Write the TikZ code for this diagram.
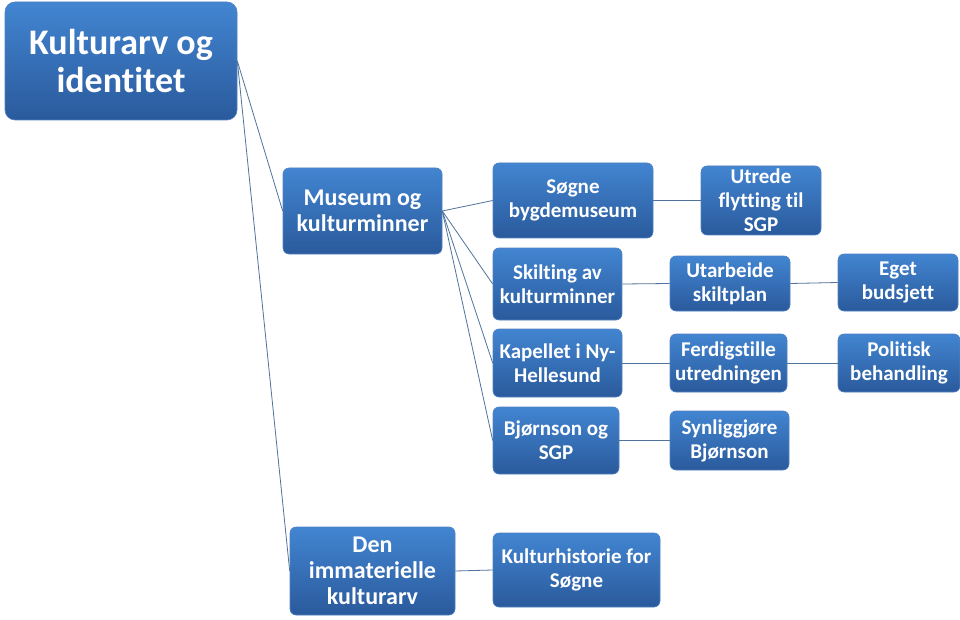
\documentclass[tikz,border=0pt]{standalone}
\usepackage{fontspec}
\setmainfont[Ligatures=NoCommon]{Carlito}
\definecolor{boxtop}{RGB}{66,133,209}
\definecolor{boxbot}{RGB}{42,90,156}
\definecolor{boxedge}{RGB}{80,130,195}
\definecolor{linkc}{RGB}{80,115,155}
\begin{document}
\begin{tikzpicture}[x=1pt,y=-1pt,
  box/.style={draw=boxedge, line width=0.6pt, rounded corners=6pt, top color=boxtop, bottom color=boxbot,
    text=white, align=center, inner sep=0pt, font=\bfseries\fontsize{21}{24}\selectfont},
  lvlone/.style={box, font=\bfseries\fontsize{24}{26}\selectfont},
  rootbox/.style={box, rounded corners=10pt, font=\bfseries\fontsize{36}{38}\selectfont},
  link/.style={draw=linkc, line width=0.8pt}]
\useasboundingbox (0,0) rectangle (960,620);
\fill[white] (0,0) rectangle (960,620);

\node[rootbox, minimum width=232, minimum height=118] (root) at (121,61) {Kulturarv og\\identitet};
\node[lvlone, minimum width=159, minimum height=86] (mus) at (362.5,211) {Museum og\\kulturminner};
\node[lvlone, minimum width=165, minimum height=88] (den) at (372.5,571) {Den\\immaterielle\\kulturarv};

\node[box, minimum width=160, minimum height=75] (sog) at (573,200.5) {Søgne\\bygdemuseum};
\node[box, minimum width=129, minimum height=72] (ski) at (557.5,284) {Skilting av\\kulturminner};
\node[box, minimum width=129, minimum height=68] (kap) at (557.5,363) {Kapellet i Ny-\\Hellesund};
\node[box, minimum width=126, minimum height=67] (bjo) at (556,440.5) {Bjørnson og\\SGP};
\node[box, minimum width=167, minimum height=74] (kul) at (576.5,570) {Kulturhistorie for\\Søgne};

\node[box, minimum width=120, minimum height=69] (utr) at (761,200.5) {Utrede\\flytting til\\SGP};
\node[box, minimum width=120, minimum height=55] (uta) at (730,283.5) {Utarbeide\\skiltplan};
\node[box, minimum width=117, minimum height=58] (fer) at (728.5,363) {Ferdigstille\\utredningen};
\node[box, minimum width=119, minimum height=59] (syn) at (729.5,440.5) {Synliggjøre\\Bjørnson};

\node[box, minimum width=120, minimum height=57] (ege) at (898,282.5) {Eget\\budsjett};
\node[box, minimum width=122, minimum height=58] (pol) at (899,363) {Politisk\\behandling};

\draw[link] (root.east) -- (mus.west);
\draw[link] (root.east) -- (den.west);
\draw[link] (mus.east) -- (sog.west);
\draw[link] (mus.east) -- (ski.west);
\draw[link] (mus.east) -- (kap.west);
\draw[link] (mus.east) -- (bjo.west);
\draw[link] (den.east) -- (kul.west);
\draw[link] (sog.east) -- (utr.west);
\draw[link] (ski.east) -- (uta.west);
\draw[link] (kap.east) -- (fer.west);
\draw[link] (bjo.east) -- (syn.west);
\draw[link] (uta.east) -- (ege.west);
\draw[link] (fer.east) -- (pol.west);
\end{tikzpicture}
\end{document}
